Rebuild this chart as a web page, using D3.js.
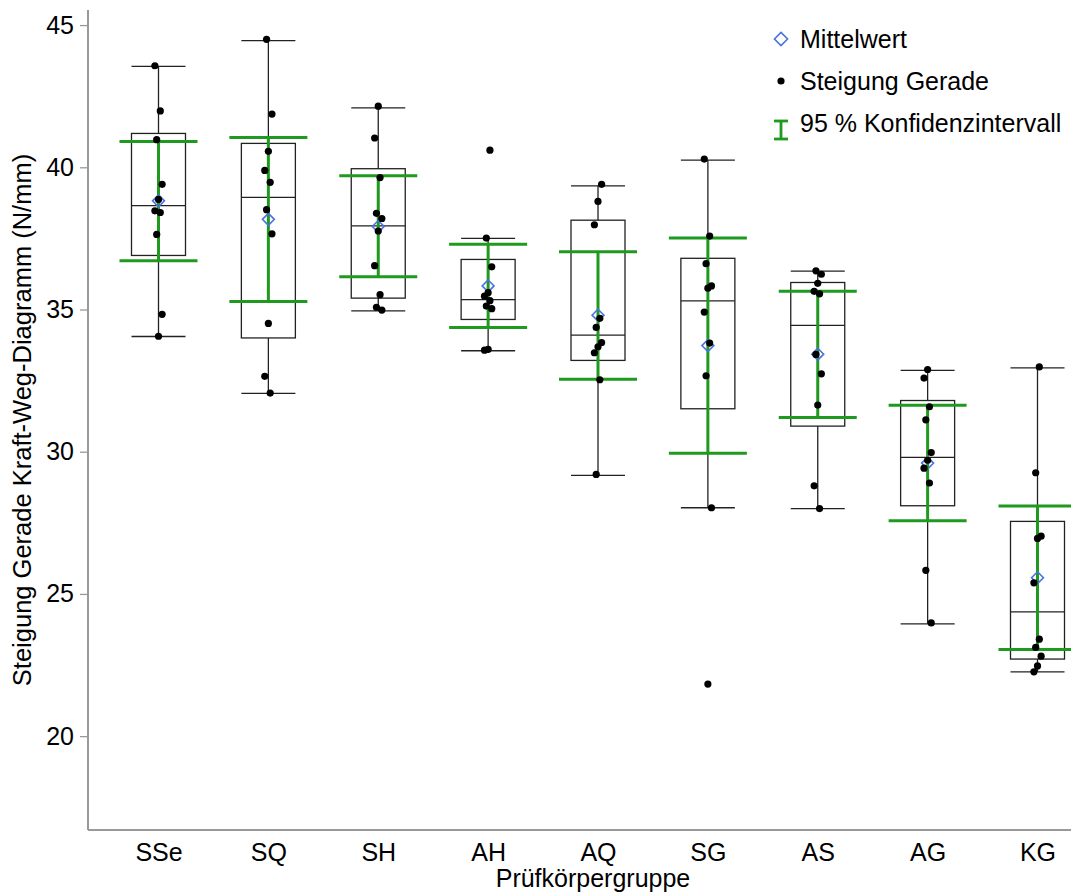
<!DOCTYPE html>
<html>
<head>
<meta charset="utf-8">
<script src="https://cdn.jsdelivr.net/npm/d3@7"></script>
<style>
  html, body { margin: 0; padding: 0; background: #fff; }
  svg { display: block; font-family: "Liberation Sans", Arial, sans-serif; }
</style>
</head>
<body>
<svg id="chart" width="1071" height="895"></svg>
<script>
'use strict';

// groups on the x axis
var groups = ['SSe', 'SQ', 'SH', 'AH', 'AQ', 'SG', 'AS', 'AG', 'KG'];

// single measurements (slope of the line, N/mm), one list per group
var points = [
	[43.57, 41.98, 40.97, 39.40, 38.87, 38.47, 38.41, 37.64, 34.83, 34.06],
	[44.50, 41.87, 40.56, 39.89, 39.47, 38.51, 37.66, 34.51, 32.65, 32.06],
	[42.15, 41.03, 39.64, 38.38, 38.20, 37.76, 36.54, 35.52, 35.08, 34.98],
	[40.60, 37.51, 36.50, 35.59, 35.47, 35.31, 35.12, 35.03, 33.60, 33.57],
	[39.40, 38.80, 37.98, 34.69, 34.37, 33.84, 33.69, 33.48, 32.53, 29.20],
	[40.29, 37.58, 36.61, 35.83, 35.75, 34.91, 33.82, 32.67, 28.03, 21.83],
	[36.36, 36.24, 35.92, 35.64, 35.55, 33.42, 32.74, 31.64, 28.80, 28.00],
	[32.89, 32.59, 31.58, 31.12, 29.97, 29.70, 29.42, 28.90, 25.83, 23.98],
	[32.98, 29.26, 27.03, 26.95, 25.39, 23.41, 23.12, 22.81, 22.47, 22.26]
];

// box plot statistics
var q1          = [36.90, 34.00, 35.40, 34.65, 33.21, 31.51, 30.90, 28.10, 22.71];
var median      = [38.65, 38.94, 37.94, 35.35, 34.10, 35.30, 34.44, 29.80, 24.37];
var q3          = [41.19, 40.84, 39.95, 36.76, 38.14, 36.80, 35.95, 31.80, 27.55];
var whiskerLow  = [34.05, 32.05, 34.95, 33.55, 29.17, 28.03, 28.00, 23.95, 22.26];
var whiskerHigh = [43.55, 44.45, 42.09, 37.50, 39.35, 40.25, 36.35, 32.86, 32.95];
var mean        = [38.82, 38.17, 37.92, 35.83, 34.80, 33.73, 33.43, 29.60, 25.57];
var ciLow       = [36.71, 35.28, 36.15, 34.37, 32.55, 29.95, 31.20, 27.57, 23.05];
var ciHigh      = [40.91, 41.05, 39.70, 37.29, 37.03, 37.51, 35.64, 31.63, 28.09];

var yTicks = [20, 25, 30, 35, 40, 45];

var legendItems = ['Mittelwert', 'Steigung Gerade', '95 % Konfidenzintervall'];

// styles
var green = '#1f9a1f';
var blue = '#4a72e0';
var fontSize = 25;

var svg = d3.select('#chart');

var plot = { left: 88, right: 1071, top: 10, bottom: 830 };

var y = d3.scaleLinear()
	.domain([16.7, 45.53])
	.range([plot.bottom, plot.top]);

var x = d3.scalePoint()
	.domain(groups)
	.range([158.5, 1037.5]);

var boxW = 54, ciW = 78;

// y axis
var yAxis = svg.append('g')
	.attr('transform', 'translate(' + plot.left + ',0)')
	.call(d3.axisLeft(y).tickValues(yTicks).tickSize(8).tickPadding(6));
yAxis.select('.domain')
	.attr('d', 'M0,' + plot.top + 'V' + plot.bottom)
	.attr('stroke', '#999').attr('stroke-width', 2);
yAxis.selectAll('.tick line').attr('stroke', '#999').attr('stroke-width', 1.3);
yAxis.selectAll('.tick text')
	.attr('fill', '#000')
	.style('font-size', fontSize + 'px')
	.style('font-family', '"Liberation Sans", Arial, sans-serif');

// x axis
var xAxis = svg.append('g')
	.attr('transform', 'translate(0,' + plot.bottom + ')')
	.call(d3.axisBottom(x).tickSize(0).tickPadding(8));
xAxis.select('.domain')
	.attr('d', 'M' + plot.left + ',0H' + plot.right)
	.attr('stroke', '#999').attr('stroke-width', 2);
xAxis.selectAll('.tick text')
	.attr('fill', '#000')
	.attr('dy', '0.9em')
	.style('font-size', fontSize + 'px')
	.style('font-family', '"Liberation Sans", Arial, sans-serif');

// axis titles
svg.append('text')
	.attr('x', 593).attr('y', 887)
	.attr('text-anchor', 'middle')
	.style('font-size', fontSize + 'px')
	.text('Prüfkörpergruppe');

svg.append('text')
	.attr('transform', 'translate(31,420) rotate(-90)')
	.attr('text-anchor', 'middle')
	.style('font-size', '25.5px')
	.text('Steigung Gerade Kraft-Weg-Diagramm (N/mm)');

// boxes
var g = svg.append('g');
var idx = d3.range(groups.length);

var box = g.selectAll('.box').data(idx).join('g')
	.attr('class', 'box')
	.attr('transform', function(i) { return 'translate(' + x(groups[i]) + ',0)'; });

box.append('line')
	.attr('y1', function(i) { return y(whiskerLow[i]); })
	.attr('y2', function(i) { return y(q1[i]); });
box.append('line')
	.attr('y1', function(i) { return y(q3[i]); })
	.attr('y2', function(i) { return y(whiskerHigh[i]); });
box.append('line')
	.attr('x1', -boxW / 2).attr('x2', boxW / 2)
	.attr('y1', function(i) { return y(whiskerLow[i]); })
	.attr('y2', function(i) { return y(whiskerLow[i]); });
box.append('line')
	.attr('x1', -boxW / 2).attr('x2', boxW / 2)
	.attr('y1', function(i) { return y(whiskerHigh[i]); })
	.attr('y2', function(i) { return y(whiskerHigh[i]); });
box.append('rect')
	.attr('x', -boxW / 2).attr('width', boxW)
	.attr('y', function(i) { return y(q3[i]); })
	.attr('height', function(i) { return y(q1[i]) - y(q3[i]); })
	.attr('fill', 'none');
box.append('line')
	.attr('x1', -boxW / 2).attr('x2', boxW / 2)
	.attr('y1', function(i) { return y(median[i]); })
	.attr('y2', function(i) { return y(median[i]); });
box.selectAll('line, rect').attr('stroke', '#222').attr('stroke-width', 1.3);

// confidence interval
box.append('line')
	.attr('y1', function(i) { return y(ciLow[i]); })
	.attr('y2', function(i) { return y(ciHigh[i]); })
	.attr('stroke', green).attr('stroke-width', 3);
[ciLow, ciHigh].forEach(function(arr) {
	box.append('line')
		.attr('x1', -ciW / 2).attr('x2', ciW / 2)
		.attr('y1', function(i) { return y(arr[i]); })
		.attr('y2', function(i) { return y(arr[i]); })
		.attr('stroke', green).attr('stroke-width', 3);
});

// mean diamond
var diamond = d3.symbol().type(d3.symbolDiamond2).size(90);
box.append('path')
	.attr('d', diamond)
	.attr('transform', function(i) { return 'translate(0,' + y(mean[i]) + ')'; })
	.attr('fill', 'none')
	.attr('stroke', blue).attr('stroke-width', 1.6);

// single points, small fixed jitter
box.each(function(i) {
	d3.select(this).selectAll('circle')
		.data(points[i])
		.join('circle')
		.attr('cx', function(d, j) { return ((j * 3 + i) % 5 - 2) * 1.8; })
		.attr('cy', function(d) { return y(d); })
		.attr('r', 3.6)
		.attr('fill', '#000');
});

// legend
var legend = svg.append('g').attr('transform', 'translate(781,0)');
legend.append('path')
	.attr('d', d3.symbol().type(d3.symbolDiamond2).size(110))
	.attr('transform', 'translate(0,39)')
	.attr('fill', 'none').attr('stroke', blue).attr('stroke-width', 1.6);
legend.append('circle')
	.attr('cy', 81).attr('r', 3.6).attr('fill', '#000');
var ci = legend.append('g').attr('stroke', green).attr('stroke-width', 2.8);
ci.append('line').attr('y1', 121).attr('y2', 139);
ci.append('line').attr('x1', -7).attr('x2', 7).attr('y1', 121).attr('y2', 121);
ci.append('line').attr('x1', -7).attr('x2', 7).attr('y1', 139).attr('y2', 139);

legend.selectAll('.label')
	.data(legendItems)
	.join('text')
	.attr('class', 'label')
	.attr('x', 19)
	.attr('y', function(d, i) { return 48 + i * 42; })
	.style('font-size', fontSize + 'px')
	.text(function(d) { return d; });
</script>
</body>
</html>
